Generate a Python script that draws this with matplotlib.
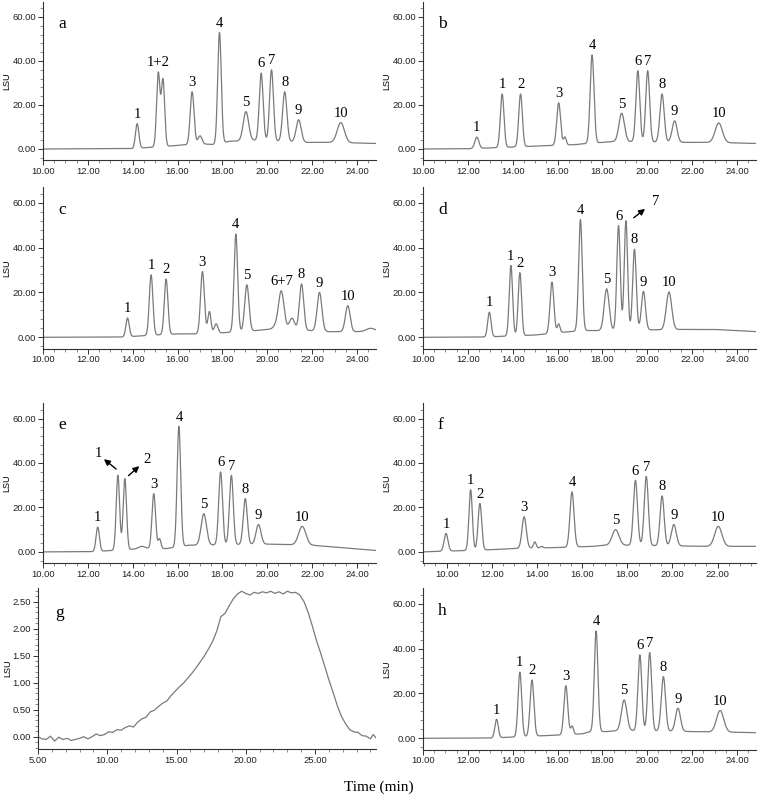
import numpy as np
import matplotlib
matplotlib.use('Agg')
import matplotlib.pyplot as plt
from matplotlib.ticker import MultipleLocator, FormatStrFormatter

# ---- peak tables: time (min), apex height (LSU), sigma (min), label
a_t = [14.20, 15.14, 15.35, 16.65, 17.00, 17.87, 19.05, 19.73, 20.19, 20.78, 21.40, 23.28]
a_h = [11.5, 35.0, 32.0, 26.0, 6.0, 53.0, 17.0, 34.5, 36.0, 26.0, 13.3, 12.0]
a_w = [0.075, 0.075, 0.075, 0.085, 0.09, 0.08, 0.12, 0.085, 0.085, 0.095, 0.11, 0.16]
a_lab = ['1', '1+2', None, '3', None, '4', '5', '6', '7', '8', '9', '10']
a_bt = [10.0, 14.0, 15.6, 16.2, 17.3, 17.7, 18.3, 19.5, 21.8, 23.0, 24.9]
a_bv = [0.0, 0.2, 1.3, 1.8, 2.2, 2.0, 3.5, 4.0, 3.0, 3.0, 2.5]

b_t = [12.40, 13.53, 14.35, 16.05, 16.33, 17.54, 18.86, 19.58, 20.02, 20.66, 21.22, 23.19]
b_h = [5.4, 25.0, 25.0, 21.0, 5.5, 42.7, 16.3, 35.6, 35.6, 25.0, 12.8, 11.8]
b_w = [0.09, 0.08, 0.08, 0.085, 0.06, 0.085, 0.12, 0.085, 0.085, 0.095, 0.11, 0.16]
b_lab = ['1', '1', '2', '3', None, '4', '5', '6', '7', '8', '9', '10']
b_bt = [10.0, 12.0, 15.5, 16.8, 17.3, 18.0, 18.6, 21.8, 23.0, 24.9]
b_bv = [0.0, 0.1, 1.5, 2.0, 2.5, 3.0, 3.5, 3.0, 3.0, 2.5]

c_t = [13.77, 14.82, 15.49, 17.11, 17.42, 17.72, 18.60, 19.09, 20.42, 20.63, 21.10, 21.53, 22.33, 23.59, 24.60]
c_h = [8.6, 27.8, 26.0, 29.3, 11.5, 6.0, 46.0, 23.4, 9.0, 20.7, 8.5, 23.8, 20.0, 14.1, 4.0]
c_w = [0.075, 0.08, 0.08, 0.085, 0.07, 0.08, 0.08, 0.095, 0.14, 0.12, 0.12, 0.095, 0.105, 0.105, 0.17]
c_lab = ['1', '1', '2', '3', None, None, '4', '5', None, '6+7', None, '8', '9', '10', None]
c_bt = [10.0, 13.5, 15.0, 16.0, 16.8, 18.0, 19.5, 20.0, 21.9, 22.8, 24.0, 24.9]
c_bv = [0.0, 0.1, 1.0, 1.5, 1.5, 2.0, 3.0, 3.5, 3.0, 2.5, 2.5, 3.0]

d_t = [12.96, 13.92, 14.32, 15.75, 16.05, 17.02, 18.19, 18.72, 19.05, 19.43, 19.83, 20.97]
d_h = [11.2, 32.0, 28.8, 24.6, 6.0, 52.5, 21.6, 49.8, 52.0, 39.3, 20.5, 20.2]
d_w = [0.075, 0.075, 0.075, 0.085, 0.06, 0.08, 0.11, 0.077, 0.075, 0.08, 0.09, 0.12]
d_lab = ['1', '1', '2', '3', None, '4', '5', '6', None, '8', '9', '10']
d_bt = [10.0, 12.7, 15.0, 16.5, 17.3, 17.8, 21.5, 23.0, 24.9]
d_bv = [0.0, 0.1, 1.0, 2.5, 3.0, 3.0, 3.5, 3.5, 2.5]

e_t = [12.44, 13.34, 13.65, 14.40, 14.94, 15.20, 16.06, 17.17, 17.92, 18.40, 19.02, 19.61, 21.56]
e_h = [11.2, 34.5, 33.0, 2.5, 26.2, 6.0, 56.5, 17.2, 36.0, 34.5, 24.0, 12.3, 11.5]
e_w = [0.075, 0.075, 0.075, 0.14, 0.08, 0.06, 0.08, 0.12, 0.085, 0.085, 0.09, 0.11, 0.16]
e_lab = ['1', None, None, None, '3', None, '4', '5', '6', '7', '8', '9', '10']
e_bt = [10.0, 12.2, 14.5, 15.5, 16.5, 20.0, 22.0, 24.9]
e_bv = [0.0, 0.1, 1.5, 1.5, 3.0, 3.5, 3.0, 0.6]

f_t = [9.97, 11.06, 11.47, 13.43, 13.90, 14.20, 15.55, 17.48, 18.36, 18.84, 19.54, 20.06, 22.03]
f_h = [8.3, 28.0, 21.8, 15.8, 4.5, 2.5, 27.0, 10.0, 32.2, 34.0, 25.2, 12.3, 11.5]
f_w = [0.085, 0.075, 0.08, 0.095, 0.06, 0.06, 0.09, 0.15, 0.09, 0.09, 0.09, 0.11, 0.16]
f_lab = ['1', '1', '2', '3', None, None, '4', '5', '6', '7', '8', '9', '10']
f_bt = [8.95, 10.5, 12.0, 13.0, 15.0, 16.5, 17.0, 18.0, 21.5, 23.7]
f_bv = [0.0, 0.5, 1.0, 1.5, 2.0, 2.5, 3.0, 3.0, 2.5, 2.5]

h_t = [13.28, 14.32, 14.86, 16.37, 16.65, 17.72, 18.97, 19.67, 20.11, 20.72, 21.37, 23.25]
h_h = [8.5, 29.5, 26.0, 23.4, 5.5, 47.9, 17.1, 37.2, 38.2, 27.5, 13.4, 12.4]
h_w = [0.075, 0.08, 0.085, 0.085, 0.06, 0.08, 0.12, 0.085, 0.085, 0.095, 0.11, 0.16]
h_lab = ['1', '1', '2', '3', None, '4', '5', '6', '7', '8', '9', '10']
h_bt = [10.0, 13.0, 15.0, 16.2, 17.1, 17.5, 18.2, 18.8, 22.0, 24.9]
h_bv = [0.0, 0.1, 1.0, 1.5, 2.0, 3.0, 3.0, 3.5, 3.0, 2.5]

# ---- panel g: broad trace read point by point
g_t = [5.0, 5.3, 5.6, 5.9, 6.2, 6.5, 6.8, 7.1, 7.4, 7.7, 8.0, 8.3, 8.6, 8.9, 9.2, 9.5,
       9.8, 10.1, 10.4, 10.7, 11.0, 11.3, 11.6, 11.9, 12.2, 12.5, 12.8, 13.1, 13.4, 13.7,
       14.0, 14.3, 14.6, 14.9, 15.2, 15.5, 15.8, 16.1, 16.4, 16.7, 17.0, 17.3, 17.6, 17.9,
       18.2, 18.5, 18.8, 19.1, 19.4, 19.7, 20.0, 20.3, 20.6, 20.9, 21.2, 21.5, 21.8, 22.1,
       22.4, 22.7, 23.0, 23.3, 23.6, 23.9, 24.2, 24.5, 24.8, 25.1, 25.4, 25.7, 26.0, 26.3,
       26.6, 26.9, 27.2, 27.5, 27.8, 28.1, 28.4, 28.7, 29.0, 29.2, 29.4]
g_v = [0.00, -0.04, -0.05, 0.01, -0.08, -0.01, -0.05, -0.03, -0.07, -0.05, -0.03, 0.00,
       -0.04, 0.00, 0.05, 0.02, 0.04, 0.09, 0.08, 0.13, 0.12, 0.17, 0.20, 0.18, 0.27, 0.33,
       0.36, 0.46, 0.49, 0.56, 0.62, 0.66, 0.76, 0.84, 0.92, 0.99, 1.08, 1.17, 1.27, 1.38,
       1.49, 1.62, 1.76, 1.95, 2.22, 2.28, 2.42, 2.55, 2.64, 2.69, 2.65, 2.62, 2.67, 2.65,
       2.68, 2.66, 2.69, 2.65, 2.68, 2.64, 2.69, 2.66, 2.67, 2.62, 2.50, 2.30, 2.05, 1.78,
       1.55, 1.30, 1.05, 0.82, 0.58, 0.38, 0.24, 0.13, 0.09, 0.08, 0.02, 0.01, -0.04, 0.04,
       -0.02]

W, H = 758, 799
fig = plt.figure(figsize=(W / 100, H / 100), dpi=100)
LINE = '#7a7a7a'
AXC = '#333333'
SERIF = ['Liberation Serif', 'DejaVu Serif']
SANS = ['Liberation Sans', 'DejaVu Sans']


def make_ax(left, top, right, bottom):
    ax = fig.add_axes([left / W, 1 - bottom / H, (right - left) / W, (bottom - top) / H])
    for s in ('top', 'right'):
        ax.spines[s].set_visible(False)
    for s in ('left', 'bottom'):
        ax.spines[s].set_color(AXC)
        ax.spines[s].set_linewidth(0.8)
    ax.tick_params(which='major', length=3.5, width=0.7, color=AXC, labelsize=6.8,
                   labelcolor='#222222', pad=1.5)
    ax.tick_params(which='minor', length=2, width=0.6, color='#777777')
    for lab in ax.get_xticklabels() + ax.get_yticklabels():
        lab.set_family(SANS)
    ax.xaxis.set_major_formatter(FormatStrFormatter('%.2f'))
    ax.yaxis.set_major_formatter(FormatStrFormatter('%.2f'))
    ax.set_ylabel('LSU', fontsize=6.5, family=SANS, labelpad=0.5)
    return ax


def trace(t, pt, ph, pw, bt, bv):
    pt, ph, pw = np.array(pt), np.array(ph), np.array(pw)
    base_at = np.interp(pt, bt, bv)
    G = np.exp(-0.5 * ((pt[:, None] - pt[None, :]) / pw[None, :]) ** 2)
    amp = np.linalg.solve(G, ph - base_at)
    y = np.interp(t, bt, bv)
    for c, a, w in zip(pt, amp, pw):
        y = y + a * np.exp(-0.5 * ((t - c) / w) ** 2)
    return y


def chrom_panel(box, xlim, letter, pt, ph, pw, lab, bt, bv):
    ax = make_ax(*box)
    t = np.linspace(xlim[0], xlim[1], 4000)
    ax.plot(t, trace(t, pt, ph, pw, bt, bv), color=LINE, lw=0.9)
    ax.set_xlim(*xlim)
    ax.set_ylim(-5, 67)
    ax.xaxis.set_major_locator(MultipleLocator(2))
    ax.xaxis.set_minor_locator(MultipleLocator(0.5))
    ax.yaxis.set_major_locator(MultipleLocator(20))
    ax.yaxis.set_minor_locator(MultipleLocator(4))
    for s, x, yv in zip(lab, pt, ph):
        if s:
            ax.text(x, yv + 1.2, s, ha='center', va='bottom', fontsize=10.5, family=SERIF)
    ax.text(0.045, 0.86, letter, transform=ax.transAxes, ha='left', va='center',
            fontsize=12.5, family=SERIF)
    return ax


ax_a = chrom_panel((43, 1.6, 376, 160), (10, 24.85), 'a', a_t, a_h, a_w, a_lab, a_bt, a_bv)
ax_b = chrom_panel((423, 1.6, 756, 160), (10, 24.85), 'b', b_t, b_h, b_w, b_lab, b_bt, b_bv)
ax_c = chrom_panel((43, 187, 376, 348.5), (10, 24.85), 'c', c_t, c_h, c_w, c_lab, c_bt, c_bv)
ax_d = chrom_panel((423, 187, 756, 348.5), (10, 24.85), 'd', d_t, d_h, d_w, d_lab, d_bt, d_bv)
ax_e = chrom_panel((43, 403, 376, 563), (10, 24.85), 'e', e_t, e_h, e_w, e_lab, e_bt, e_bv)
ax_f = chrom_panel((423, 403, 756, 563), (8.95, 23.7), 'f', f_t, f_h, f_w, f_lab, f_bt, f_bv)
ax_h = chrom_panel((423, 588, 756, 749.5), (10, 24.85), 'h', h_t, h_h, h_w, h_lab, h_bt, h_bv)

# arrows for co-eluting peaks
arr = dict(arrowstyle='-|>', color='black', lw=1.0, mutation_scale=9)
ax_d.annotate('', xy=(20.0, 58.0), xytext=(19.3, 52.5), arrowprops=arr)
ax_d.text(20.2, 60.5, '7', ha='left', va='center', fontsize=10.5, family=SERIF)
ax_e.annotate('', xy=(12.62, 42.5), xytext=(13.36, 36.5), arrowprops=arr)
ax_e.text(12.47, 44.3, '1', ha='center', va='center', fontsize=10.5, family=SERIF)
ax_e.annotate('', xy=(14.39, 39.4), xytext=(13.72, 33.5), arrowprops=arr)
ax_e.text(14.62, 41.5, '2', ha='center', va='center', fontsize=10.5, family=SERIF)

# panel g
ax_g = make_ax(38, 588, 376, 748.6)
ax_g.plot(g_t, g_v, color=LINE, lw=0.9)
ax_g.set_xlim(5, 29.4)
ax_g.set_ylim(-0.22, 2.75)
ax_g.xaxis.set_major_locator(MultipleLocator(5))
ax_g.xaxis.set_minor_locator(MultipleLocator(1))
ax_g.yaxis.set_major_locator(MultipleLocator(0.5))
ax_g.yaxis.set_minor_locator(MultipleLocator(0.1))
ax_g.text(0.05, 0.845, 'g', transform=ax_g.transAxes, ha='left', va='center',
          fontsize=12.5, family=SERIF)

fig.text(379 / W, 1 - 787 / H, 'Time (min)', ha='center', va='center', fontsize=11,
         family=SERIF)

fig.savefig('out.png', dpi=100)
